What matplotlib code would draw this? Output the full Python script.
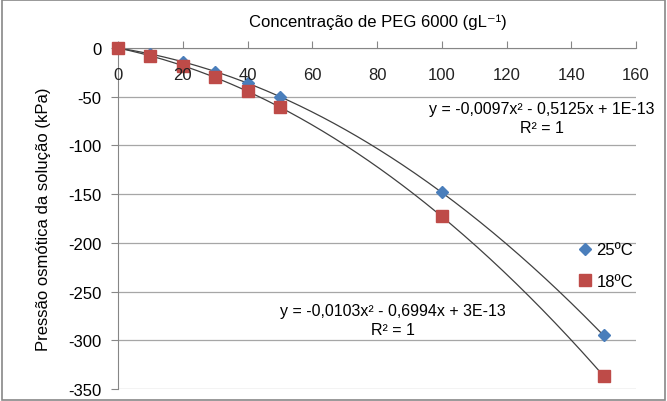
import numpy as np
import matplotlib
matplotlib.use("Agg")
import matplotlib.pyplot as plt
from matplotlib.patches import Rectangle

plt.rcParams['font.family'] = ['Liberation Sans', 'DejaVu Sans']
plt.rcParams['axes.unicode_minus'] = False

# dados
conc = [0, 10, 20, 30, 40, 50, 100, 150]
p25 = [0, -6.1, -14.1, -24.1, -36.0, -49.9, -148.3, -295.1]
p18 = [0, -8.0, -18.1, -30.2, -44.5, -60.7, -172.9, -336.7]

eq25 = "y = -0,0097x² - 0,5125x + 1E-13\nR² = 1"
eq18 = "y = -0,0103x² - 0,6994x + 3E-13\nR² = 1"

fig = plt.figure(figsize=(6.67, 4.02), dpi=100)
ax = fig.add_axes([0.177, 0.030, 0.7765, 0.848])

# linhas de tendência polinomiais (ordem 2)
xx = np.linspace(0, 150, 300)
for ys in (p25, p18):
    c = np.polyfit(conc, ys, 2)
    ax.plot(xx, np.polyval(c, xx), color='#404040', lw=0.9, zorder=2)

ax.plot(conc, p25, ls='none', marker='D', ms=6, color='#4a7ebb', label='25ºC', zorder=3, clip_on=False)
ax.plot(conc, p18, ls='none', marker='s', ms=8, color='#be4b48', label='18ºC', zorder=3, clip_on=False)

ax.set_xlim(0, 160)
ax.set_ylim(-350, 0)
ax.set_xticks(range(0, 161, 20))
ax.set_yticks(range(-350, 1, 50))
ax.yaxis.grid(True, color='#a6a6a6', lw=0.9)
ax.set_axisbelow(True)

for s in ('right', 'bottom'):
    ax.spines[s].set_visible(False)
ax.spines['top'].set_position(('data', 0))
ax.spines['top'].set_color('#868686')
ax.spines['left'].set_color('#868686')
ax.xaxis.set_ticks_position('top')
ax.tick_params(axis='x', direction='out', length=5, color='#868686', labeltop=False, labelbottom=False)
ax.tick_params(axis='y', direction='out', length=5, color='#868686', labelsize=12, pad=7)
for x in range(0, 161, 20):
    ax.text(x, -27, str(x), ha='center', va='center', fontsize=12, color='#222222')

ax.set_ylabel('Pressão osmótica da solução (kPa)', fontsize=12, labelpad=12)
fig.text(0.567, 0.945, 'Concentração de PEG 6000 (gL⁻¹)', ha='center', va='center', fontsize=12)

ax.text(131, -72, eq25, ha='center', va='center', fontsize=11.5, linespacing=1.35)
ax.text(85, -279, eq18, ha='center', va='center', fontsize=11.5, linespacing=1.35)

leg = ax.legend(loc='upper left', bbox_to_anchor=(0.885, 0.43), frameon=False,
                fontsize=12, handletextpad=0.2, labelspacing=1.0, handlelength=1.0,
                borderaxespad=0, borderpad=0)

fig.patches.append(Rectangle((0.003, 0.003), 0.994, 0.994, transform=fig.transFigure,
                             fill=False, ec='#888888', lw=1.2))

fig.savefig('out.png', dpi=100)
